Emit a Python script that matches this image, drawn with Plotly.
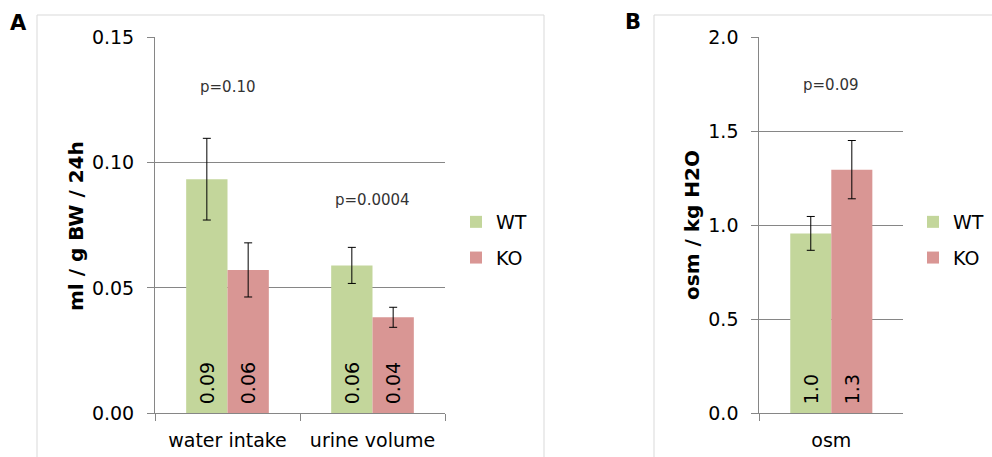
import plotly.graph_objects as go

# ---- data ----
cats_a = ["water intake", "urine volume"]
wt_a = [0.0934, 0.0590]
ko_a = [0.0572, 0.0383]
wt_a_err = [0.0163, 0.0072]
ko_a_err = [0.0108, 0.0040]
p_a = ["p=0.10", "p=0.0004"]
p_a_y = [0.130, 0.085]

cats_b = ["osm"]
wt_b = [0.957]
ko_b = [1.296]
wt_b_err = [0.090]
ko_b_err = [0.155]
p_b = ["p=0.09"]
p_b_y = [1.745]

GREEN = "#C3D69B"
RED = "#D99694"
GRID = "#868686"
FONT = "DejaVu Sans"
W, H = 992, 457

def px_x(p):
    return p / W

def px_y(p):
    return (H - p) / H

fig = go.Figure()

def add_bars(x, y, err, name, color, xa, ya, legend, fmt, show):
    fig.add_trace(go.Bar(
        x=x, y=y, name=name, marker=dict(color=color, line=dict(width=0)),
        error_y=dict(type="data", array=err, color="#000000", thickness=1, width=4),
        text=y, texttemplate="\u00a0" + fmt, textposition="inside", insidetextanchor="start",
        textangle=-90, textfont=dict(family=FONT, size=19, color="#000000"),
        constraintext="none", hoverinfo="skip",
        xaxis=xa, yaxis=ya, legend=legend, legendgroup=legend + name, showlegend=show,
    ))

add_bars(cats_a, wt_a, wt_a_err, "WT", GREEN, "x", "y", "legend", "%{y:.2f}", True)
add_bars(cats_a, ko_a, ko_a_err, "KO", RED, "x", "y", "legend", "%{y:.2f}", True)
add_bars(cats_b, wt_b, wt_b_err, "WT", GREEN, "x2", "y2", "legend2", "%{y:.1f}", True)
add_bars(cats_b, ko_b, ko_b_err, "KO", RED, "x2", "y2", "legend2", "%{y:.1f}", True)

ydom = [px_y(413.3), px_y(37.3)]
axis_common = dict(showline=True, linecolor=GRID, linewidth=1, ticks="outside", automargin=False,
                   ticklen=7, tickcolor=GRID, tickfont=dict(family=FONT, size=19, color="#000000"))

fig.update_layout(
    template="none",
    width=W, height=H, margin=dict(l=0, r=0, t=0, b=0, autoexpand=False),
    paper_bgcolor="white", plot_bgcolor="white",
    barmode="group", bargap=0.43, bargroupgap=0,
    font=dict(family=FONT, size=19, color="#000000"),
    xaxis=dict(domain=[px_x(155), px_x(445)], anchor="y", tickson="boundaries", showgrid=False,
               ticklabelstandoff=10, **axis_common),
    yaxis=dict(domain=ydom, anchor="x", range=[0, 0.15], dtick=0.05, tickformat=".2f",
               showgrid=True, gridcolor=GRID, gridwidth=1, zeroline=False,
               ticklabelstandoff=9, **axis_common),
    xaxis2=dict(domain=[px_x(759.3), px_x(903.3)], anchor="y2", tickson="boundaries", showgrid=False,
                ticklabelstandoff=10, **axis_common),
    yaxis2=dict(domain=ydom, anchor="x2", range=[0, 2.0], dtick=0.5, tickformat=".1f",
                showgrid=True, gridcolor=GRID, gridwidth=1, zeroline=False,
                ticklabelstandoff=9, **axis_common),
    legend=dict(x=px_x(456), y=px_y(240), xanchor="left", yanchor="middle",
                font=dict(family=FONT, size=19, color="#000000"), tracegroupgap=8, itemwidth=30,
                bgcolor="rgba(0,0,0,0)", borderwidth=0),
    legend2=dict(x=px_x(913), y=px_y(240), xanchor="left", yanchor="middle",
                 font=dict(family=FONT, size=19, color="#000000"), tracegroupgap=8, itemwidth=30,
                 bgcolor="rgba(0,0,0,0)", borderwidth=0),
    showlegend=True,
    hovermode=False,
)

# chart area frames
fig.add_shape(type="rect", xref="paper", yref="paper", x0=px_x(37), x1=px_x(544),
              y0=px_y(470), y1=px_y(15), line=dict(color="#D9D9D9", width=1), layer="below")
fig.add_shape(type="rect", xref="paper", yref="paper", x0=px_x(654), x1=px_x(1010),
              y0=px_y(470), y1=px_y(15), line=dict(color="#D9D9D9", width=1), layer="below")

def ann(text, x, y, size, angle=0, xref="paper", yref="paper", color="#000000"):
    fig.add_annotation(text=text, x=x, y=y, xref=xref, yref=yref, textangle=angle,
                       xanchor="center", yanchor="middle", showarrow=False,
                       font=dict(family=FONT, size=size, color=color))

# panel letters
ann("<b>A</b>", px_x(18), px_y(22.5), 21)
ann("<b>B</b>", px_x(632.5), px_y(22), 21)

# y-axis titles
ann("<b>ml / g BW / 24h</b>", px_x(76), px_y(226), 20, angle=-90)
ann("<b>osm / kg H2O</b>", px_x(692), px_y(225), 20, angle=-90)

# p-values
for c, t, yy in zip(cats_a, p_a, p_a_y):
    ann(t, c, yy, 15, xref="x", yref="y", color="#333333")
for c, t, yy in zip(cats_b, p_b, p_b_y):
    ann(t, c, yy, 15, xref="x2", yref="y2", color="#333333")

fig.write_html("out.html", config={"displayModeBar": False},
               post_script="document.body.style.margin='0';")
